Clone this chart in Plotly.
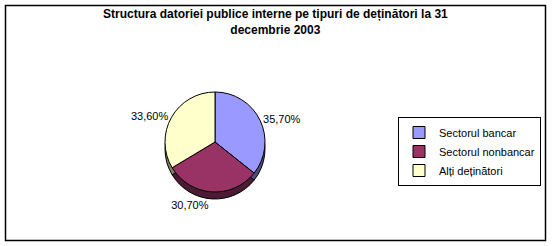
import plotly.graph_objects as go

labels = ["Sectorul bancar", "Sectorul nonbancar", "Alți deținători"]
values = [35.7, 30.7, 33.6]
text_labels = ["35,70%", "30,70%", "33,60%"]
colors = ["#9999FF", "#993366", "#FFFFCC"]
side_colors = ["#4D4D80", "#4D1A33", "#808066"]

W, H = 552, 246
cx, cy, r = 215, 142, 50
depth = 7

def dom(cyy):
    return dict(x=[(cx - r) / W, (cx + r) / W], y=[1 - (cyy + r) / H, 1 - (cyy - r) / H])

# labels under the pie are placed around the lower (side) disc, the others around the top face
bottom_idx = {1}
top_text = [t if i not in bottom_idx else "" for i, t in enumerate(text_labels)]
side_text = [t if i in bottom_idx else "" for i, t in enumerate(text_labels)]

fig = go.Figure()
fig.add_trace(go.Pie(
    labels=labels, values=values, sort=False, direction="clockwise", rotation=0,
    marker=dict(colors=side_colors, line=dict(color="black", width=1)),
    text=side_text, textinfo="text", textposition="outside",
    textfont=dict(family="Liberation Sans, Arial", size=11, color="black"),
    showlegend=False, hoverinfo="skip", domain=dom(cy + depth),
))
fig.add_trace(go.Pie(
    labels=labels, values=values, sort=False, direction="clockwise", rotation=0,
    marker=dict(colors=colors, line=dict(color="black", width=1)),
    text=top_text, textinfo="text", textposition="outside",
    textfont=dict(family="Liberation Sans, Arial", size=11, color="black"),
    domain=dom(cy),
))

fig.update_layout(
    width=W, height=H, margin=dict(l=0, r=0, t=0, b=0),
    paper_bgcolor="white", plot_bgcolor="white",
    font=dict(family="Liberation Sans, Arial", size=11, color="black"),
    annotations=[dict(text="<b>Structura datoriei publice interne pe tipuri de deținători la 31<br>decembrie 2003</b>",
                      xref="paper", yref="paper", x=275 / W, y=1 - 5 / H,
                      xanchor="center", yanchor="top", showarrow=False,
                      font=dict(family="Liberation Sans, Arial", size=12, color="black"))],
    legend=dict(x=398 / W, y=1 - 117 / H, xanchor="left", yanchor="top",
                bordercolor="black", borderwidth=1, bgcolor="white",
                font=dict(family="Liberation Sans, Arial", size=11, color="black"),
                tracegroupgap=0, itemwidth=30),
    shapes=[dict(type="rect", xref="paper", yref="paper",
                 x0=5.5 / W, x1=545.5 / W, y0=1 - 240.5 / H, y1=1 - 5.5 / H,
                 line=dict(color="black", width=1.5))],
)

fig.write_html("out.html")
